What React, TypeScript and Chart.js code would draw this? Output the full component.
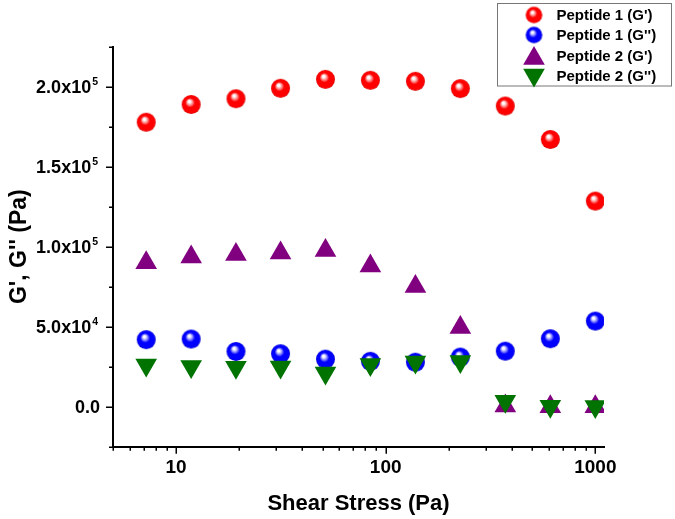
import React, { useEffect, useRef } from 'react';
import { Chart, registerables } from 'chart.js';

Chart.register(...registerables);

// ---- data ----
const shearStress = [7.2, 11.8, 19.3, 31.5, 51.6, 84.5, 138.6, 227, 372, 610, 1000];
const pep1Gp = [177800, 188900, 192500, 199000, 204600, 204000, 203400, 198800, 187900, 167000, 128500];
const pep1Gpp = [41900, 42300, 34500, 33100, 29700, 28400, 27800, 31000, 34700, 42500, 53500];
const pep2Gp = [90000, 93600, 95200, 96100, 97700, 87900, 75200, 49500, 500, 0, 0];
const pep2Gpp = [26000, 25200, 24600, 24800, 21000, 26300, 28000, 28300, 3400, 300, 200];

const seriesNames = ["Peptide 1 (G')", "Peptide 1 (G'')", "Peptide 2 (G')", "Peptide 2 (G'')"];

const yMajorTicks = [0, 50000, 100000, 150000, 200000];
const yMajorMain = ['0.0', '5.0x10', '1.0x10', '1.5x10', '2.0x10'];
const yMajorExp = ['', '4', '5', '5', '5'];
const yMinorTicks = [-25000, 25000, 75000, 125000, 175000, 225000];
const xMajorTicks = [10, 100, 1000];
const xMajorLabels = ['10', '100', '1000'];
const xMinorTicks = [5, 6, 7, 8, 9, 20, 30, 40, 50, 60, 70, 80, 90, 200, 300, 400, 500, 600, 700, 800, 900];

const xTitle = 'Shear Stress (Pa)';
const yTitle = "G', G'' (Pa)";

const FONT = '"Liberation Sans", Arial, sans-serif';
const RED = '#ff0000';
const BLUE = '#0000ff';
const PURPLE = '#800080';
const GREEN = '#007300';

function makeSphere(r: number, base: string, light: string, dark: string): HTMLCanvasElement {
  const size = Math.ceil(r * 2) + 2;
  const c = document.createElement('canvas');
  c.width = size;
  c.height = size;
  const ctx = c.getContext('2d')!;
  const cx = size / 2;
  const cy = size / 2;
  const g = ctx.createRadialGradient(cx - r * 0.22, cy - r * 0.35, 0, cx, cy, r);
  g.addColorStop(0, '#ffffff');
  g.addColorStop(0.12, '#ffffff');
  g.addColorStop(0.3, light);
  g.addColorStop(0.5, base);
  g.addColorStop(0.9, base);
  g.addColorStop(1, dark);
  ctx.fillStyle = g;
  ctx.beginPath();
  ctx.arc(cx, cy, r, 0, Math.PI * 2);
  ctx.fill();
  return c;
}

function drawTriangle(ctx: CanvasRenderingContext2D, x: number, y: number, r: number, down: boolean, color: string) {
  ctx.save();
  ctx.translate(x, y);
  if (down) ctx.rotate(Math.PI);
  ctx.beginPath();
  for (let i = 0; i < 3; i++) {
    const a = (i * 2 * Math.PI) / 3;
    const px = Math.sin(a) * r;
    const py = -Math.cos(a) * r;
    if (i === 0) ctx.moveTo(px, py);
    else ctx.lineTo(px, py);
  }
  ctx.closePath();
  ctx.fillStyle = color;
  ctx.fill();
  ctx.restore();
}

export default function App() {
  const canvasRef = useRef<HTMLCanvasElement | null>(null);

  useEffect(() => {
    const canvas = canvasRef.current;
    if (!canvas) return;

    const redSphere = makeSphere(9.5, RED, '#ff9090', '#d00000');
    const blueSphere = makeSphere(9.5, BLUE, '#9090ff', '#0000c0');
    const redSmall = makeSphere(8.3, RED, '#ff9090', '#d00000');
    const blueSmall = makeSphere(8.3, BLUE, '#9090ff', '#0000c0');

    const axesPlugin = {
      id: 'customAxes',
      afterDraw(chart: any) {
        const ctx: CanvasRenderingContext2D = chart.ctx;
        const xs = chart.scales.x;
        const ys = chart.scales.y;
        const { left, bottom, top, right } = chart.chartArea;
        ctx.save();
        ctx.strokeStyle = '#000';
        ctx.lineWidth = 1.5;
        ctx.beginPath();
        yMajorTicks.forEach((v) => {
          const y = Math.round(ys.getPixelForValue(v)) + 0.25;
          ctx.moveTo(left - 7, y);
          ctx.lineTo(left, y);
        });
        yMinorTicks.forEach((v) => {
          const y = Math.round(ys.getPixelForValue(v)) + 0.25;
          ctx.moveTo(left - 4, y);
          ctx.lineTo(left, y);
        });
        xMajorTicks.forEach((v) => {
          const x = Math.round(xs.getPixelForValue(v)) + 0.25;
          ctx.moveTo(x, bottom);
          ctx.lineTo(x, bottom + 7);
        });
        xMinorTicks.forEach((v) => {
          const x = Math.round(xs.getPixelForValue(v)) + 0.25;
          ctx.moveTo(x, bottom);
          ctx.lineTo(x, bottom + 4);
        });
        ctx.stroke();

        // y tick labels
        ctx.fillStyle = '#000';
        yMajorTicks.forEach((v, i) => {
          const y = ys.getPixelForValue(v);
          const exp = yMajorExp[i];
          ctx.textAlign = 'right';
          if (exp) {
            ctx.font = `bold 10.5px ${FONT}`;
            ctx.textBaseline = 'alphabetic';
            const supRight = left - 15;
            ctx.fillText(exp, supRight, y - 1.8);
            const ew = ctx.measureText(exp).width;
            ctx.font = `bold 18px ${FONT}`;
            ctx.textBaseline = 'middle';
            ctx.fillText(yMajorMain[i], supRight - ew - 1, y + 1);
          } else {
            ctx.font = `bold 18px ${FONT}`;
            ctx.textBaseline = 'middle';
            ctx.fillText(yMajorMain[i], left - 13, y + 1);
          }
        });

        // x tick labels
        ctx.font = `bold 19px ${FONT}`;
        ctx.textAlign = 'center';
        ctx.textBaseline = 'middle';
        xMajorTicks.forEach((v, i) => {
          const x = xs.getPixelForValue(v);
          ctx.fillText(xMajorLabels[i], x, bottom + 21);
        });

        // axis titles
        ctx.font = `bold 22px ${FONT}`;
        ctx.textAlign = 'center';
        ctx.textBaseline = 'alphabetic';
        ctx.fillText(xTitle, (left + right) / 2, 510);
        ctx.save();
        ctx.translate(26, (top + bottom) / 2);
        ctx.rotate(-Math.PI / 2);
        ctx.font = `bold 23px ${FONT}`;
        ctx.fillText(yTitle, 0, 0);
        ctx.restore();

        // legend box
        ctx.strokeStyle = '#777';
        ctx.lineWidth = 1;
        ctx.strokeRect(497.5, 3.5, 174, 82.5);
        const rows = [15, 35, 55.5, 76];
        const mx = 534;
        ctx.drawImage(redSmall, mx - redSmall.width / 2, rows[0] - redSmall.height / 2);
        ctx.drawImage(blueSmall, mx - blueSmall.width / 2, rows[1] - blueSmall.height / 2);
        drawTriangle(ctx, mx, rows[2] + 3, 12.5, false, PURPLE);
        drawTriangle(ctx, mx, rows[3] - 1, 12.5, true, GREEN);
        ctx.font = `bold 15px ${FONT}`;
        ctx.fillStyle = '#000';
        ctx.textAlign = 'left';
        ctx.textBaseline = 'middle';
        seriesNames.forEach((n, i) => {
          ctx.fillText(n, 556.5, rows[i] + 1);
        });
        ctx.restore();
      },
    };

    const toPts = (ys: number[]) => shearStress.map((x, i) => ({ x, y: ys[i] }));

    const chart = new Chart(canvas, {
      type: 'scatter',
      data: {
        datasets: [
          {
            label: seriesNames[0],
            data: toPts(pep1Gp),
            pointStyle: redSphere as any,
            pointRadius: 10,
            backgroundColor: RED,
            borderWidth: 0,
            order: 4,
          },
          {
            label: seriesNames[1],
            data: toPts(pep1Gpp),
            pointStyle: blueSphere as any,
            pointRadius: 10,
            backgroundColor: BLUE,
            borderWidth: 0,
            order: 3,
          },
          {
            label: seriesNames[2],
            data: toPts(pep2Gp),
            pointStyle: 'triangle',
            pointRadius: 12.5,
            backgroundColor: PURPLE,
            borderColor: PURPLE,
            borderWidth: 0,
            order: 2,
          },
          {
            label: seriesNames[3],
            data: toPts(pep2Gpp),
            pointStyle: 'triangle',
            pointRotation: 180,
            pointRadius: 12.5,
            backgroundColor: GREEN,
            borderColor: GREEN,
            borderWidth: 0,
            order: 1,
          },
        ],
      },
      options: {
        animation: false,
        responsive: false,
        devicePixelRatio: 1,
        layout: { padding: { top: 46.7, right: 71, left: 0, bottom: 0 } },
        plugins: {
          legend: { display: false },
          tooltip: { enabled: false },
          title: { display: false },
        },
        scales: {
          x: {
            type: 'logarithmic',
            position: 'bottom',
            min: 5,
            max: 1100,
            grid: { display: false },
            ticks: { display: false },
            border: { display: true, color: '#000', width: 2 },
            afterFit: (scale: any) => {
              scale.height = 72.3;
            },
          },
          y: {
            type: 'linear',
            position: 'left',
            min: -25000,
            max: 225000,
            grid: { display: false },
            ticks: { display: false },
            border: { display: true, color: '#000', width: 2 },
            afterFit: (scale: any) => {
              scale.width = 113;
            },
          },
        },
      },
      plugins: [axesPlugin],
    });

    return () => {
      chart.destroy();
    };
  }, []);

  return (
    <div style={{ position: 'absolute', left: 0, top: 0, width: 675, height: 519, background: '#fff' }}>
      <canvas ref={canvasRef} width={675} height={519} style={{ display: 'block', width: 675, height: 519 }} />
    </div>
  );
}
